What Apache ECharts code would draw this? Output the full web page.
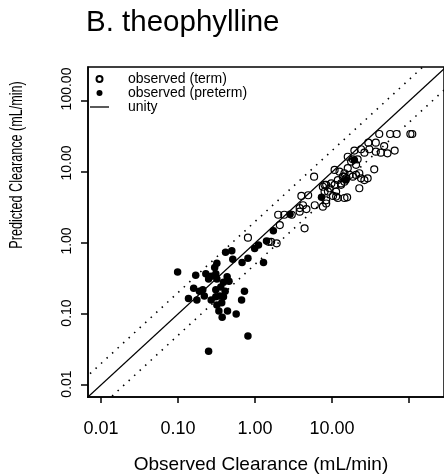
<!DOCTYPE html>
<html><head><meta charset="utf-8">
<script src="https://cdn.jsdelivr.net/npm/echarts@6/dist/echarts.min.js"></script>
<style>html,body{margin:0;padding:0;background:#fff}#c{width:444px;height:476px}</style>
</head><body><div id="c"></div>
<script>
// ---- data (clearance, mL/min) ----
const termObserved = [0.81,5.85,4.0,4.9,2.0,2.4,3.0,3.8,4.2,4.65,5.97,3.8,4.4,2.1,1.91,1.50,1.62,
  7.6,8.4,9.3,10.8,11.9,13.1,14.5,8.4,8.85,11.3,14.5,41,56.8,69,104,110,29.6,37,47.5,23.8,19.5,26.3,
  30.5,37,43,52.4,65,16.0,18.6,21.5,17.7,20.5,35.3,10.8,12.5,14.5,16.0,15.2,16.9,18.6,20.5,22.6,23.8,
  29.0,26.3,13.8,14.5,13.1,9.8,8.0,11.3,8.0,22.6,11.9,8.4,10.3,15.7,7.6];
const termPredicted = [1.19,8.6,4.6,4.7,2.5,2.5,2.5,3.1,3.4,3.0,3.4,2.76,1.61,1.79,0.99,1.04,1.04,
  6.2,6.6,5.9,6.6,7.7,6.9,8.6,3.6,5.3,4.5,4.3,34.3,34.3,34.3,34.3,34.3,25.9,25.9,23.2,20.9,20.0,18.7,
  20.9,19.3,18.7,18.3,20.0,16.4,15.1,15.1,14.0,12.6,10.9,10.7,10.1,9.6,11.3,8.15,9.1,8.6,9.1,9.6,8.15,
  8.15,7.7,8.6,7.3,6.6,6.9,6.6,5.3,5.3,5.9,4.3,4.0,4.6,4.4,3.25];
const pretermObserved = [0.099,0.17,0.23,0.27,0.31,0.32,0.30,0.415,0.50,0.515,0.68,0.81,0.99,0.25,0.32,
  0.435,0.46,0.39,0.36,0.31,0.41,0.16,0.19,0.21,0.137,0.176,0.22,0.27,0.31,0.35,0.39,0.32,0.37,0.73,0.67,
  0.34,0.44,0.375,0.57,0.81,0.25,1.29,1.11,1.41,1.73,2.85,7.3,19.5,15.2];
const pretermPredicted = [0.39,0.35,0.37,0.34,0.37,0.52,0.45,0.74,0.78,0.59,0.53,0.61,0.84,0.31,0.31,
  0.335,0.29,0.28,0.24,0.22,0.21,0.23,0.21,0.22,0.166,0.157,0.18,0.157,0.175,0.18,0.175,0.134,0.144,0.21,0.157,
  0.11,0.11,0.09,0.10,0.049,0.030,0.53,0.94,1.07,1.49,2.54,4.4,14.8,7.7];
const tickValues = [0.01, 0.1, 1, 10, 100];
const xTickLabels = ['0.01', '0.10', '1.00', '10.00', ''];
const yTickLabels = ['0.01', '0.10', '1.00', '10.00', '100.00'];
const xRange = [0.0068, 284];
const yRange = [0.00678, 301];
const unityEnds = [0.001, 1000];
const foldError = 2;
const seriesNames = ['observed (term)', 'observed (preterm)', 'unity'];
const chartTitle = 'B. theophylline';
const xTitle = 'Observed Clearance (mL/min)';
const yTitle = 'Predicted Clearance (mL/min)';

// ---- build ----
const lg = Math.log10;
const FONT = '"Liberation Sans", Arial, Helvetica, sans-serif';
const tickLogs = tickValues.map(lg);
const xLabelMap = {}, yLabelMap = {};
tickLogs.forEach((t, i) => { xLabelMap[t.toFixed(3)] = xTickLabels[i]; yLabelMap[t.toFixed(3)] = i; });
// small upward shift of the longer rotated y labels, as in the reference
const yRich = {};
[2, 2, 4, 18, 24].forEach((p, i) => {
  yRich['s' + i] = {fontFamily: FONT, fontSize: 14, color: '#000', padding: [0, 0, 0, p]};
});
const termData = termObserved.map((v, i) => [lg(v), lg(termPredicted[i])]);
const pretermData = pretermObserved.map((v, i) => [lg(v), lg(pretermPredicted[i])]);
const unityData = unityEnds.map(v => [lg(v), lg(v)]);
const upperData = unityEnds.map(v => [lg(v), lg(v * foldError)]);
const lowerData = unityEnds.map(v => [lg(v), lg(v / foldError)]);

const chart = echarts.init(document.getElementById('c'), null, {renderer: 'canvas'});
chart.setOption({
  animation: false,
  backgroundColor: '#fff',
  title: {
    text: chartTitle, left: 86, top: 8, padding: 0,
    textStyle: {fontFamily: FONT, fontSize: 29.5, fontWeight: 'normal', color: '#000'}
  },
  grid: {left: 88, top: 67, bottom: 79, right: -3, show: true, borderColor: '#000', borderWidth: 1.5},
  legend: {
    orient: 'vertical', left: 90, top: 72, padding: 0, itemGap: 0,
    itemWidth: 19, itemHeight: 6,
    data: [
      {name: seriesNames[0], icon: 'circle'},
      {name: seriesNames[1], icon: 'circle'},
      {name: seriesNames[2], icon: 'path://M0,0 L19,0 L19,1.3 L0,1.3 Z', itemStyle: {color: '#000'}}
    ],
    textStyle: {fontFamily: FONT, fontSize: 14, lineHeight: 13, color: '#000', padding: [0, 0, 0, 14]}
  },
  xAxis: {
    type: 'value', min: lg(xRange[0]), max: lg(xRange[1]),
    splitLine: {show: false},
    axisLine: {onZero: false, lineStyle: {color: '#000', width: 1.5}},
    axisTick: {length: 6, lineStyle: {color: '#000', width: 1.5}, customValues: tickLogs},
    axisLabel: {
      customValues: tickLogs.slice(0, 4), margin: 23, fontFamily: FONT, fontSize: 18, color: '#000',
      formatter: v => xLabelMap[v.toFixed(3)] ?? ''
    }
  },
  yAxis: {
    type: 'value', min: lg(yRange[0]), max: lg(yRange[1]),
    splitLine: {show: false},
    axisLine: {onZero: false, lineStyle: {color: '#000', width: 1.5}},
    axisTick: {length: 7, lineStyle: {color: '#000', width: 1.5}, customValues: tickLogs},
    axisLabel: {
      customValues: tickLogs, rotate: 90, margin: 14, fontFamily: FONT, fontSize: 14, color: '#000',
      rich: yRich,
      formatter: v => {
        const i = yLabelMap[v.toFixed(3)];
        return i === undefined ? '' : '{s' + i + '|' + yTickLabels[i] + '}';
      }
    }
  },
  graphic: [
    {type: 'text', x: 261, y: 465, silent: true,
     style: {text: xTitle, font: '19px ' + FONT, fill: '#000', align: 'center', verticalAlign: 'middle',
             textAlign: 'center', textVerticalAlign: 'middle'}},
    {type: 'text', x: 17, y: 165, rotation: Math.PI / 2, scaleX: 0.70, silent: true,
     style: {text: yTitle, font: '18px ' + FONT, fill: '#000', align: 'center', verticalAlign: 'middle',
             textAlign: 'center', textVerticalAlign: 'middle'}}
  ],
  series: [
    {name: 'upper', type: 'line', data: upperData, symbol: 'none', silent: true,
     lineStyle: {color: '#000', width: 1.6, type: [1.5, 6]}},
    {name: 'lower', type: 'line', data: lowerData, symbol: 'none', silent: true,
     lineStyle: {color: '#000', width: 1.6, type: [1.5, 6]}},
    {name: seriesNames[2], type: 'line', data: unityData, symbol: 'none', silent: true,
     lineStyle: {color: '#000', width: 1.3}, itemStyle: {color: '#000'}},
    {name: seriesNames[0], type: 'scatter', data: termData, symbol: 'circle', symbolSize: 7,
     itemStyle: {color: 'rgba(0,0,0,0)', borderColor: '#000', borderWidth: 1.2, opacity: 1}},
    {name: seriesNames[1], type: 'scatter', data: pretermData, symbol: 'circle', symbolSize: 7.5,
     itemStyle: {color: '#000', opacity: 1}}
  ]
});
</script></body></html>
